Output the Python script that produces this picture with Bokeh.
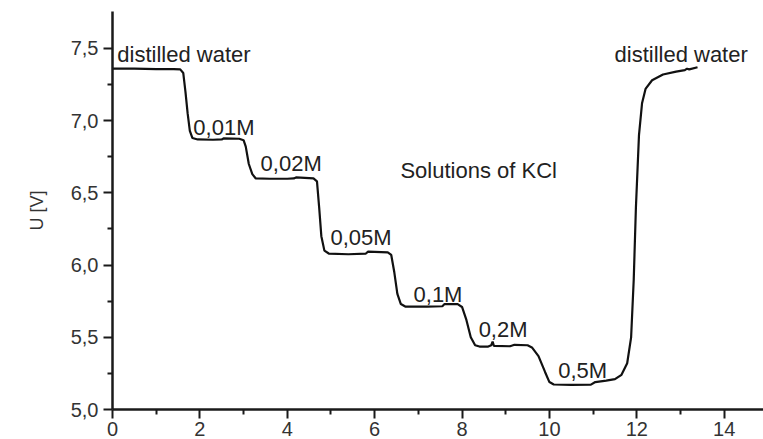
from bokeh.plotting import figure
from bokeh.models import FixedTicker, Range1d
from bokeh.core.properties import value
from bokeh.embed import file_html
from bokeh.resources import INLINE

# measured trace: time (x) and voltage U [V]
t = [0.0, 0.5, 1.0, 1.4, 1.55, 1.62, 1.67, 1.72, 1.77, 1.83, 1.95, 2.3, 2.5, 2.55, 2.9, 3.0,
     3.05, 3.12, 3.2, 3.28, 3.6, 4.0, 4.15, 4.2, 4.6, 4.68, 4.73, 4.78, 4.85, 4.95, 5.4, 5.8,
     5.85, 6.3, 6.38, 6.45, 6.52, 6.6, 6.7, 7.2, 7.55, 7.6, 7.9, 8.0, 8.1, 8.2, 8.3, 8.4,
     8.6, 8.67, 8.7, 8.73, 9.1, 9.2, 9.5, 9.6, 9.75, 9.9, 10.0, 10.1, 10.5, 10.95, 11.05,
     11.3, 11.5, 11.65, 11.78, 11.87, 11.93, 11.98, 12.05, 12.12, 12.2, 12.35, 12.6, 12.9,
     13.1, 13.15, 13.2, 13.39]
u = [7.36, 7.36, 7.357, 7.357, 7.355, 7.33, 7.2, 7.05, 6.93, 6.88, 6.87, 6.868, 6.87, 6.878,
     6.875, 6.865, 6.82, 6.7, 6.63, 6.6, 6.598, 6.598, 6.6, 6.607, 6.6, 6.58, 6.4, 6.2, 6.1,
     6.08, 6.075, 6.08, 6.093, 6.088, 6.07, 5.95, 5.8, 5.73, 5.713, 5.713, 5.715, 5.73, 5.73,
     5.71, 5.62, 5.5, 5.445, 5.436, 5.436, 5.445, 5.47, 5.44, 5.438, 5.448, 5.445, 5.43,
     5.37, 5.26, 5.19, 5.173, 5.17, 5.172, 5.19, 5.2, 5.21, 5.24, 5.32, 5.5, 5.9, 6.4, 6.9,
     7.12, 7.22, 7.28, 7.32, 7.34, 7.35, 7.36, 7.355, 7.37]

# annotations
label_text = ["distilled water", "0,01M", "0,02M", "0,05M", "0,1M", "0,2M", "0,5M",
              "distilled water", "Solutions of KCl"]
label_x = [0.11, 1.85, 3.39, 4.99, 6.89, 8.38, 10.2, 11.49, 6.59]
label_y = [7.417, 6.91, 6.66, 6.15, 5.755, 5.512, 5.228, 7.417, 6.61]

# ticks
x_ticks = [0, 2, 4, 6, 8, 10, 12, 14]
x_minor = [1, 3, 5, 7, 9, 11, 13]
y_ticks = [5.0, 5.5, 6.0, 6.5, 7.0, 7.5]
y_tick_labels = ["5,0", "5,5", "6,0", "6,5", "7,0", "7,5"]
y_minor = [5.25, 5.75, 6.25, 6.75, 7.25]

FONT = "Liberation Sans"

p = figure(width=763, height=439, output_backend="svg", toolbar_location=None,
           x_range=Range1d(0, 14.9), y_range=Range1d(5.0, 7.756),
           min_border_left=112, min_border_right=0, min_border_top=11, min_border_bottom=30)
p.outline_line_color = None
p.xgrid.visible = False
p.ygrid.visible = False

p.line(t, u, line_color="#111111", line_width=2.2)
p.text(x=label_x, y=label_y, text=label_text, text_font=value(FONT),
       text_font_size="22px", text_color="#222222", text_baseline="alphabetic",
       text_align="left", y_offset=-6)

for ax in (p.xaxis[0], p.yaxis[0]):
    ax.axis_line_width = 2.5
    ax.axis_line_color = "#1a1a1a"
    ax.major_tick_line_width = 2
    ax.major_tick_line_color = "#1a1a1a"
    ax.minor_tick_line_width = 2
    ax.minor_tick_line_color = "#1a1a1a"
    ax.major_tick_in = 0
    ax.major_tick_out = 9
    ax.minor_tick_in = 0
    ax.minor_tick_out = 5
    ax.major_label_text_font = FONT
    ax.major_label_text_font_size = "20px"
    ax.major_label_text_color = "#333333"

p.xaxis.ticker = FixedTicker(ticks=x_ticks, minor_ticks=x_minor)
p.xaxis.major_label_standoff = 3
p.yaxis.ticker = FixedTicker(ticks=y_ticks, minor_ticks=y_minor)
p.yaxis.major_label_overrides = {v: s for v, s in zip(y_ticks, y_tick_labels)}
p.yaxis.major_label_standoff = 5
p.yaxis.axis_label = "U [V]"
p.yaxis.axis_label_text_font = FONT
p.yaxis.axis_label_text_font_size = "18px"
p.yaxis.axis_label_text_font_style = "normal"
p.yaxis.axis_label_text_color = "#333333"
p.yaxis.axis_label_standoff = 21

open("out.html", "w").write(file_html(p, INLINE))
